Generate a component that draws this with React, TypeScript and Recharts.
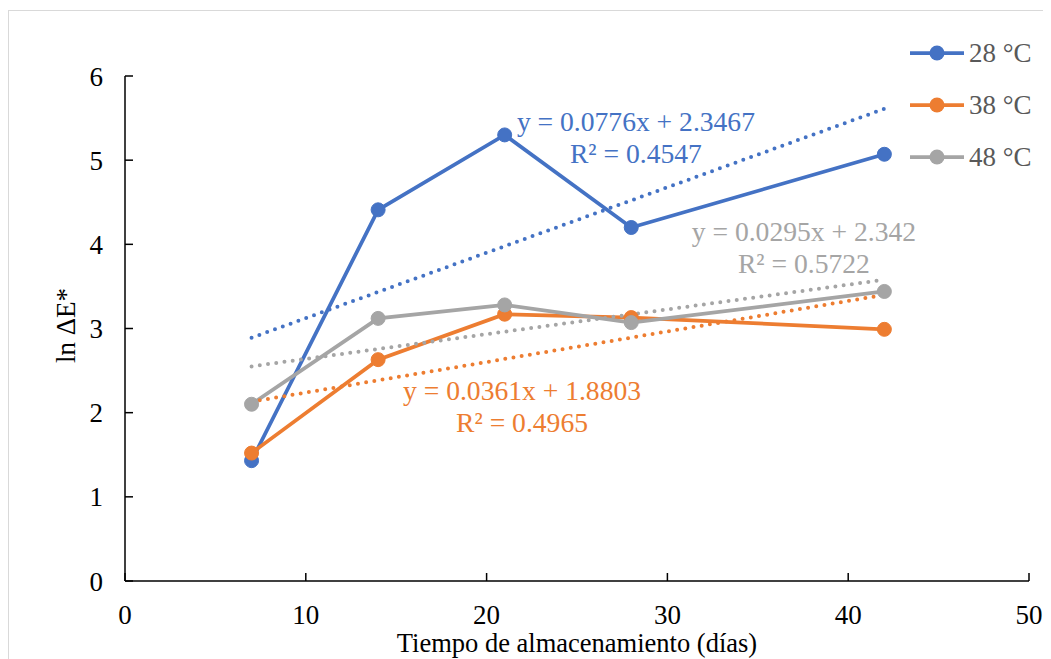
import React from 'react';
import { LineChart, Line, XAxis, YAxis, ReferenceDot } from 'recharts';

// storage days and ln ΔE* per temperature
const days = [7, 14, 21, 28, 42];
const lnE28 = [1.43, 4.41, 5.3, 4.2, 5.07];
const lnE38 = [1.52, 2.63, 3.17, 3.13, 2.99];
const lnE48 = [2.1, 3.12, 3.28, 3.07, 3.44];

// linear trendline end points
const trendDays = [7, 42];
const trend28 = [2.89, 5.61];
const trend38 = [2.13, 3.4];
const trend48 = [2.55, 3.58];

const xTicks = [0, 10, 20, 30, 40, 50];
const yTicks = [0, 1, 2, 3, 4, 5, 6];

const FONT = '"Liberation Serif", "Times New Roman", serif';

const toPoints = (xs: number[], ys: number[]) => xs.map((x, i) => ({ x, y: ys[i] }));

const series = [
  { name: '28 °C', color: '#4472C4', values: lnE28, trend: trend28, eq: 'y = 0.0776x + 2.3467', r2: 'R² = 0.4547', at: [28.26, 5.27] },
  { name: '38 °C', color: '#ED7D31', values: lnE38, trend: trend38, eq: 'y = 0.0361x + 1.8803', r2: 'R² = 0.4965', at: [21.96, 2.08] },
  { name: '48 °C', color: '#A5A5A5', values: lnE48, trend: trend48, eq: 'y = 0.0295x + 2.342', r2: 'R² = 0.5722', at: [37.55, 3.97] },
];

const XTick = (props: any) => {
  const { x, y, payload } = props;
  return (
    <g>
      <line x1={x} y1={y} x2={x} y2={y - 8} stroke="#000" strokeWidth={1.5} />
      <text x={x} y={y + 43} textAnchor="middle" fontFamily={FONT} fontSize={27} fill="#000">
        {payload.value}
      </text>
    </g>
  );
};

const YTick = (props: any) => {
  const { x, y, payload } = props;
  return (
    <g>
      <line x1={x} y1={y} x2={x + 8} y2={y} stroke="#000" strokeWidth={1.5} />
      <text x={x - 22} y={y + 9.5} textAnchor="end" fontFamily={FONT} fontSize={27} fill="#000">
        {payload.value}
      </text>
    </g>
  );
};

const App = () => {
  return (
    <div style={{ position: 'relative', width: 1043, height: 651 }}>
      <style>{'body{overflow:hidden}'}</style>
      <div
        style={{
          position: 'absolute',
          left: 0,
          top: 2,
          width: 1060,
          height: 700,
          border: '1px solid #d9d9d9',
          boxSizing: 'border-box',
        }}
      />
      <div style={{ position: 'absolute', left: 0, top: 0 }}>
        <LineChart width={1043} height={660} margin={{ top: 68, right: 22, bottom: 47, left: 57 }}>
          <XAxis
            dataKey="x"
            type="number"
            domain={[0, 50]}
            ticks={xTicks}
            allowDataOverflow
            height={40}
            stroke="#000"
            strokeWidth={1.5}
            tickLine={false}
            tickSize={0}
            tickMargin={0}
            tick={<XTick />}
            label={{
              content: (p: any) => {
                const vb = p.viewBox;
                return (
                  <text x={vb.x + vb.width / 2} y={vb.y + 71} textAnchor="middle" fontFamily={FONT} fontSize={26.5} fill="#000">
                    Tiempo de almacenamiento (días)
                  </text>
                );
              },
            }}
          />
          <YAxis
            dataKey="y"
            type="number"
            domain={[0, 6]}
            ticks={yTicks}
            width={60}
            stroke="#000"
            strokeWidth={1.5}
            tickLine={false}
            tickSize={0}
            tickMargin={0}
            tick={<YTick />}
            label={{
              content: (p: any) => {
                const vb = p.viewBox;
                return (
                  <text
                    transform={`translate(${vb.x + 10}, ${vb.y + vb.height / 2 - 3}) rotate(-90)`}
                    textAnchor="middle"
                    fontFamily={FONT}
                    fontSize={27}
                    fill="#000"
                  >
                    ln ΔE*
                  </text>
                );
              },
            }}
          />
          {series.map((s) => (
            <Line
              key={s.name}
              data={toPoints(days, s.values)}
              dataKey="y"
              name={s.name}
              stroke={s.color}
              strokeWidth={3.75}
              dot={{ r: 7, fill: s.color, stroke: s.color, strokeWidth: 1 }}
              activeDot={false}
              isAnimationActive={false}
            />
          ))}
          {series.map((s) => (
            <Line
              key={s.name + '-trend'}
              data={toPoints(trendDays, s.trend)}
              dataKey="y"
              stroke={s.color}
              strokeWidth={4}
              strokeDasharray="0 8.3"
              strokeLinecap="round"
              dot={false}
              activeDot={false}
              legendType="none"
              isAnimationActive={false}
            />
          ))}
          {series.map((s) => (
            <ReferenceDot
              key={s.name + '-eq'}
              x={s.at[0]}
              y={s.at[1]}
              r={0}
              ifOverflow="visible"
              shape={(p: any) => (
                <g>
                  <text x={p.cx} y={p.cy - 6} textAnchor="middle" fontFamily={FONT} fontSize={27.6} fill={s.color}>
                    {s.eq}
                  </text>
                  <text x={p.cx} y={p.cy + 26} textAnchor="middle" fontFamily={FONT} fontSize={27.6} fill={s.color}>
                    {s.r2}
                  </text>
                </g>
              )}
            />
          ))}
        </LineChart>
      </div>
      <div style={{ position: 'absolute', left: 902, top: 19 }}>
        {series.map((s) => (
          <div key={s.name} style={{ display: 'flex', alignItems: 'center', height: 52 }}>
            <svg width={54} height={18}>
              <line x1={0} y1={9} x2={54} y2={9} stroke={s.color} strokeWidth={3.75} />
              <circle cx={27} cy={9} r={7.5} fill={s.color} />
            </svg>
            <span style={{ marginLeft: 5, fontFamily: FONT, fontSize: 27, color: '#595959', lineHeight: '52px' }}>{s.name}</span>
          </div>
        ))}
      </div>
    </div>
  );
};

export default App;
